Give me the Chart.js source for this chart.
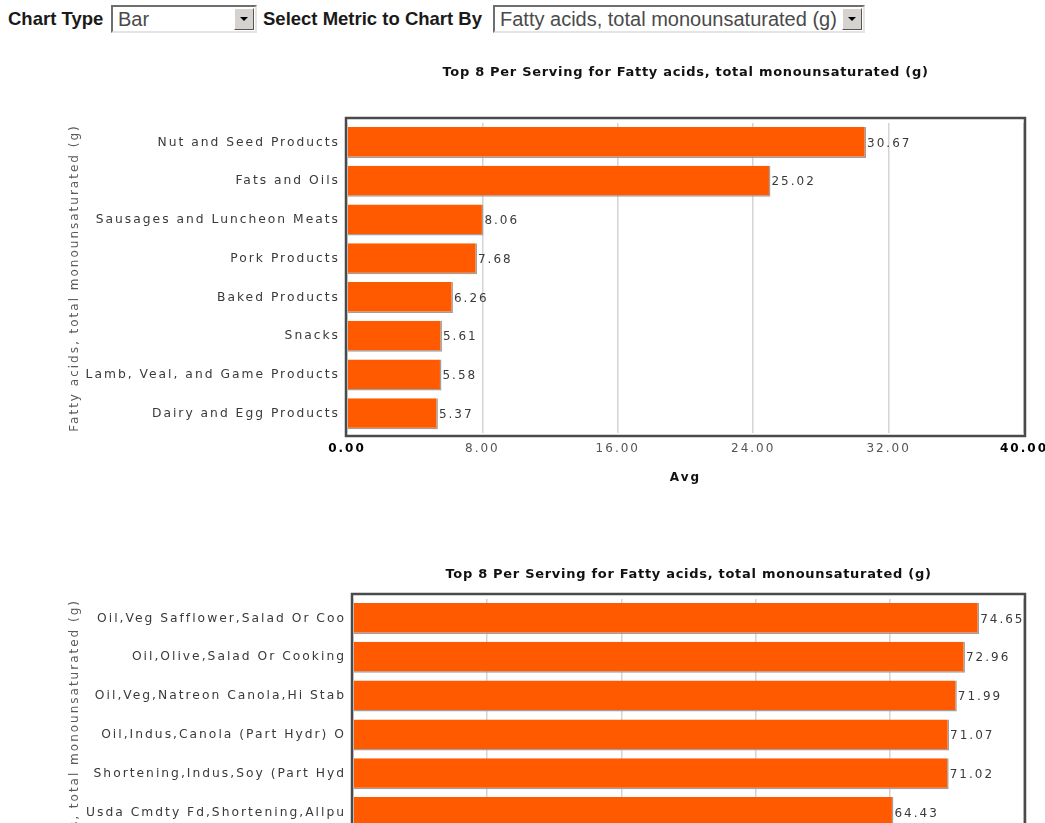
<!DOCTYPE html>
<html>
<head>
<meta charset="utf-8">
<title>Top 8 Per Serving</title>
<script src="https://cdn.jsdelivr.net/npm/chart.js@4/dist/chart.umd.min.js"></script>
<style>
  html, body { margin: 0; padding: 0; width: 1045px; height: 823px; overflow: hidden; background: #fff; }
  .lbl { position: absolute; top: 8px; font: bold 18.5px "Liberation Sans", Arial, sans-serif; color: #1a1a1a; white-space: nowrap; }
  .sel { position: absolute; top: 5px; height: 28px; box-sizing: border-box; background: #fff;
         border-top: 2px solid #6e6e6e; border-left: 2px solid #6e6e6e;
         border-right: 2px solid #e4e4e4; border-bottom: 2px solid #e4e4e4; }
  .sel span { position: absolute; left: 5px; top: 1px; font: 20px "Liberation Sans", Arial, sans-serif; color: #4a4a4a; white-space: nowrap; }
  .sel .btn { position: absolute; right: 1px; top: 1px; width: 20px; height: 22px; box-sizing: border-box;
              background: #d6d3ce; border: 1px solid; border-color: #fff #555 #555 #fff; }
  .sel .btn:after { content: ""; position: absolute; left: 5px; top: 8px;
                    border-left: 4px solid transparent; border-right: 4px solid transparent; border-top: 4px solid #000; }
  canvas { position: absolute; left: 0; }
</style>
</head>
<body>
<div class="lbl" style="left:8px">Chart Type</div>
<div class="sel" style="left:111px; width:146px"><span>Bar</span><div class="btn"></div></div>
<div class="lbl" style="left:263px">Select Metric to Chart By</div>
<div class="sel" style="left:493px; width:372px"><span id="metric"></span><div class="btn"></div></div>

<canvas id="groupChart" width="1045" height="450" style="top:50px"></canvas>
<canvas id="foodChart" width="1045" height="349" style="top:550px"></canvas>

<script>
// values
const metricName = 'Fatty acids, total monounsaturated (g)';
const chartTitle = 'Top 8 Per Serving for Fatty acids, total monounsaturated (g)';

const groupNames = ['Nut and Seed Products', 'Fats and Oils', 'Sausages and Luncheon Meats', 'Pork Products',
                    'Baked Products', 'Snacks', 'Lamb, Veal, and Game Products', 'Dairy and Egg Products'];
const groupAvg = [30.67, 25.02, 8.06, 7.68, 6.26, 5.61, 5.58, 5.37];
const groupTicks = [0, 8, 16, 24, 32, 40];

// only the first 6 rows of the second chart are on screen
const foodNames = ['Oil,Veg Safflower,Salad Or Coo', 'Oil,Olive,Salad Or Cooking', 'Oil,Veg,Natreon Canola,Hi Stab',
                   'Oil,Indus,Canola (Part Hydr) O', 'Shortening,Indus,Soy (Part Hyd', 'Usda Cmdty Fd,Shortening,Allpu'];
const foodAvg = [74.65, 72.96, 71.99, 71.07, 71.02, 64.43];
const foodTicks = [0, 16, 32, 48, 64, 80];

document.getElementById('metric').textContent = metricName;

Chart.defaults.font.family = '"DejaVu Sans", Verdana, sans-serif';
Chart.defaults.font.size = 12;

// the old chart has wide letter spacing everywhere
const spacing = {
  id: 'spacing',
  beforeLayout(chart) { chart.ctx.letterSpacing = '2px'; },
  beforeDraw(chart) { chart.ctx.letterSpacing = '2px'; }
};

const valueLabels = {
  id: 'valueLabels',
  afterDatasetsDraw(chart) {
    var ctx = chart.ctx;
    var values = chart.data.datasets[0].data;
    ctx.save();
    ctx.font = '12px "DejaVu Sans"';
    ctx.letterSpacing = '2px';
    ctx.fillStyle = '#3a3a3a';
    ctx.textBaseline = 'middle';
    chart.getDatasetMeta(0).data.forEach(function(bar, i) {
      ctx.fillText(values[i].toFixed(2), bar.x + 1, bar.y + 1);
    });
    ctx.restore();
  }
};

const frame = {
  id: 'frame',
  afterDraw(chart, args, opts) {
    var a = chart.chartArea, ctx = chart.ctx;
    ctx.save();
    ctx.strokeStyle = '#4a4a4a';
    ctx.lineWidth = 2.5;
    ctx.strokeRect(a.left - 1, a.top - 5, a.right - a.left + 2, a.bottom - a.top + 8);
    ctx.font = 'bold 13px "DejaVu Sans"';
    ctx.letterSpacing = '0.7px';
    ctx.textAlign = 'center';
    ctx.textBaseline = 'middle';
    ctx.fillStyle = '#111';
    ctx.fillText(opts.text, (a.left + a.right) / 2, opts.y);
    ctx.restore();
  }
};

function makeChart(canvasId, names, values, ticks, axisLeft, titleY, padTop, yTitleAlign) {
  var lastTick = ticks.length - 1;
  return new Chart(document.getElementById(canvasId), {
    type: 'bar',
    data: {
      labels: names,
      datasets: [{
        data: values,
        backgroundColor: '#ff5a00',
        borderColor: '#a0a0a0',
        borderWidth: { top: 0, left: 0, right: 1.5, bottom: 1.5 },
        borderSkipped: false,
        categoryPercentage: 1,
        barPercentage: 0.8
      }]
    },
    options: {
      indexAxis: 'y',
      responsive: false,
      animation: false,
      devicePixelRatio: 1,
      layout: { padding: { top: padTop, right: 21, bottom: 0, left: 0 } },
      plugins: {
        legend: { display: false },
        tooltip: { enabled: false },
        frame: { text: chartTitle, y: titleY }
      },
      scales: {
        x: {
          min: ticks[0],
          max: ticks[lastTick],
          afterBuildTicks: function(s) { s.ticks = ticks.map(function(v) { return { value: v }; }); },
          afterFit: function(s) { s.height = 67; s.paddingLeft = 0; s.paddingRight = 0; },
          grid: { color: '#d4d4d4', lineWidth: 1.5, drawTicks: false },
          border: { display: false },
          ticks: {
            padding: 9,
            maxRotation: 0,
            autoSkip: false,
            callback: function(v) { return Number(v).toFixed(2); },
            color: function(c) { return (c.index === 0 || c.index === lastTick) ? '#000' : '#555'; },
            font: function(c) {
              return (c.index === 0 || c.index === lastTick) ? { size: 12, weight: 'bold' } : { size: 12 };
            }
          },
          title: { display: true, text: 'Avg', color: '#111', font: { size: 12, weight: 'bold' }, padding: { top: 0, bottom: 15 } }
        },
        y: {
          afterFit: function(s) { s.width = axisLeft; },
          grid: { display: false, drawTicks: false },
          border: { display: false },
          ticks: { padding: 7, color: '#3a3a3a', font: { size: 12.3 }, autoSkip: false },
          title: { display: true, text: metricName, color: '#5a5a5a', align: yTitleAlign,
                   font: { size: 12 }, padding: { top: 68, bottom: 0 } }
        }
      }
    },
    plugins: [spacing, valueLabels, frame]
  });
}

makeChart('groupChart', groupNames, groupAvg, groupTicks, 347, 23, 73, 'center');
makeChart('foodChart', foodNames, foodAvg, foodTicks, 353, 25, 49, 'end');
</script>
</body>
</html>
